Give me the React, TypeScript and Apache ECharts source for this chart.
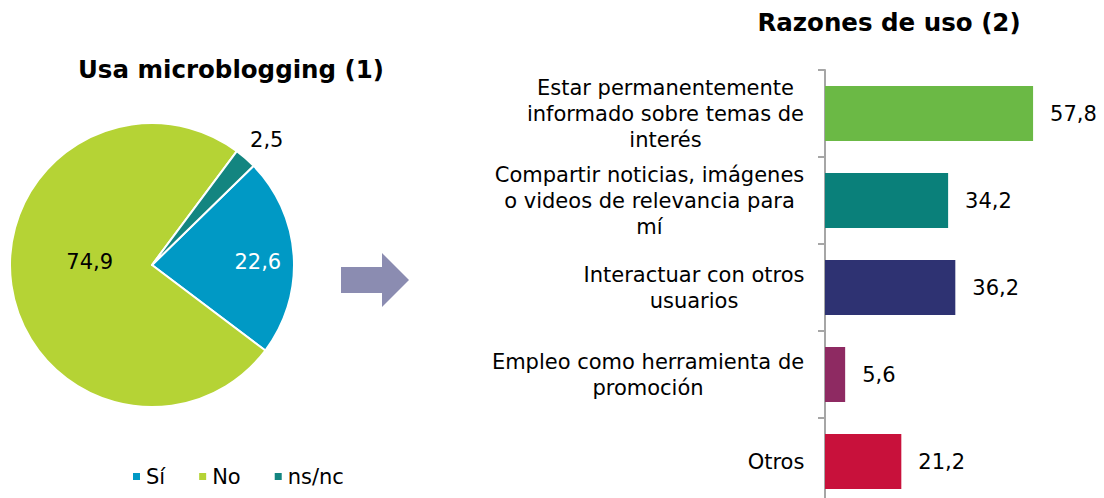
import React, { useEffect, useRef } from "react";
import * as echarts from "echarts";

const pieTitle = "Usa microblogging (1)";
const barTitle = "Razones de uso (2)";
const pieCategories = ["Sí", "No", "ns/nc"];
const pieValues = [22.6, 74.9, 2.5];
const barCategories = [
  "Estar permanentemente\ninformado sobre temas de\ninterés",
  "Compartir noticias, imágenes\no videos de relevancia para\nmí",
  "Interactuar con otros\nusuarios",
  "Empleo como herramienta de\npromoción",
  "Otros",
];
const barValues = [57.8, 34.2, 36.2, 5.6, 21.2];

const FONT = "DejaVu Sans";
const LABEL_SIZE = 21;
const pieColors = ["#0099C5", "#B5D335", "#138580"];
const barColors = ["#6BB945", "#0A807A", "#2E3272", "#8E2A62", "#C8113B"];
const pieLabelStyles = [
  { color: "#FFFFFF", offset: [32, 2] },
  { color: "#000000", offset: [11, -13] },
  { color: "#000000", offset: [66, -69] },
];

const fmt = (v: number) => v.toFixed(1).replace(".", ",");

function measureBlockWidths(labels: string[]): number[] {
  const canvas = document.createElement("canvas");
  const ctx = canvas.getContext("2d");
  return labels.map((lab) => {
    const lines = lab.split("\n");
    if (!ctx) return Math.max(...lines.map((l) => l.length * LABEL_SIZE * 0.6));
    ctx.font = `${LABEL_SIZE}px "${FONT}"`;
    return Math.ceil(Math.max(...lines.map((l) => ctx.measureText(l).width))) + 1;
  });
}

export default function App() {
  const ref = useRef<HTMLDivElement>(null);
  useEffect(() => {
    if (!ref.current) return;
    const chart = echarts.init(ref.current, undefined, { renderer: "svg" });
    const widths = measureBlockWidths(barCategories);
    const rich: Record<string, any> = {};
    widths.forEach((w, i) => {
      rich["c" + i] = {
        width: w,
        align: "center",
        fontSize: LABEL_SIZE,
        lineHeight: 26,
        color: "#000",
        fontFamily: FONT,
      };
    });
    chart.setOption({
      animation: false,
      backgroundColor: "#FFFFFF",
      textStyle: { fontFamily: FONT },
      title: [
        {
          text: pieTitle,
          left: 231,
          top: 57,
          textAlign: "center",
          padding: 0,
          textStyle: { fontSize: 24.5, fontWeight: "bold", color: "#000", fontFamily: FONT },
        },
        {
          text: barTitle,
          left: 889,
          top: 10,
          textAlign: "center",
          padding: 0,
          textStyle: { fontSize: 24.5, fontWeight: "bold", color: "#000", fontFamily: FONT },
        },
      ],
      legend: {
        data: pieCategories,
        left: 126,
        top: 461,
        icon: "rect",
        itemWidth: 9,
        itemHeight: 9,
        itemGap: 32,
        textStyle: { fontSize: 21, color: "#000", fontFamily: FONT },
      },
      grid: {
        left: 825,
        top: 70,
        width: 252,
        height: 435,
        outerBoundsMode: "none",
        containLabel: false,
      },
      xAxis: { type: "value", min: 0, max: 70, show: false },
      yAxis: {
        type: "category",
        inverse: true,
        data: barCategories,
        axisLine: { show: true, lineStyle: { color: "#A6A6A6", width: 2 } },
        axisTick: { show: true, length: 7, lineStyle: { color: "#A6A6A6", width: 2 } },
        axisLabel: {
          margin: 20,
          align: "right",
          formatter: (value: string, index: number) =>
            value
              .split("\n")
              .map((l) => `{c${index}|${l}}`)
              .join("\n"),
          rich,
        },
        splitLine: { show: false },
      },
      series: [
        {
          type: "pie",
          center: [152, 265],
          radius: 142,
          startAngle: 44.3,
          clockwise: true,
          avoidLabelOverlap: false,
          itemStyle: { borderColor: "#FFFFFF", borderWidth: 2 },
          emphasis: { disabled: true },
          labelLine: { show: false },
          data: pieCategories.map((name, i) => ({
            name,
            value: pieValues[i],
            itemStyle: { color: pieColors[i] },
            label: {
              show: true,
              position: "inside",
              formatter: (p: any) => fmt(p.value),
              fontSize: 21,
              fontFamily: FONT,
              color: pieLabelStyles[i].color,
              offset: pieLabelStyles[i].offset,
            },
          })),
        },
        {
          type: "bar",
          barCategoryGap: "37%",
          emphasis: { disabled: true },
          label: {
            show: true,
            position: "right",
            distance: 17,
            fontSize: 21,
            fontFamily: FONT,
            color: "#000",
            formatter: (p: any) => fmt(p.value),
          },
          data: barValues.map((v, i) => ({ value: v, itemStyle: { color: barColors[i] } })),
        },
      ],
      graphic: [
        {
          type: "polygon",
          shape: {
            points: [
              [341, 267],
              [382, 267],
              [382, 253],
              [409, 280],
              [382, 307],
              [382, 293],
              [341, 293],
            ],
          },
          style: { fill: "#8B8CB1" },
        },
      ],
    });
    return () => chart.dispose();
  }, []);
  return (
    <div
      ref={ref}
      style={{ position: "fixed", left: 0, top: 0, width: 1104, height: 498 }}
    />
  );
}
